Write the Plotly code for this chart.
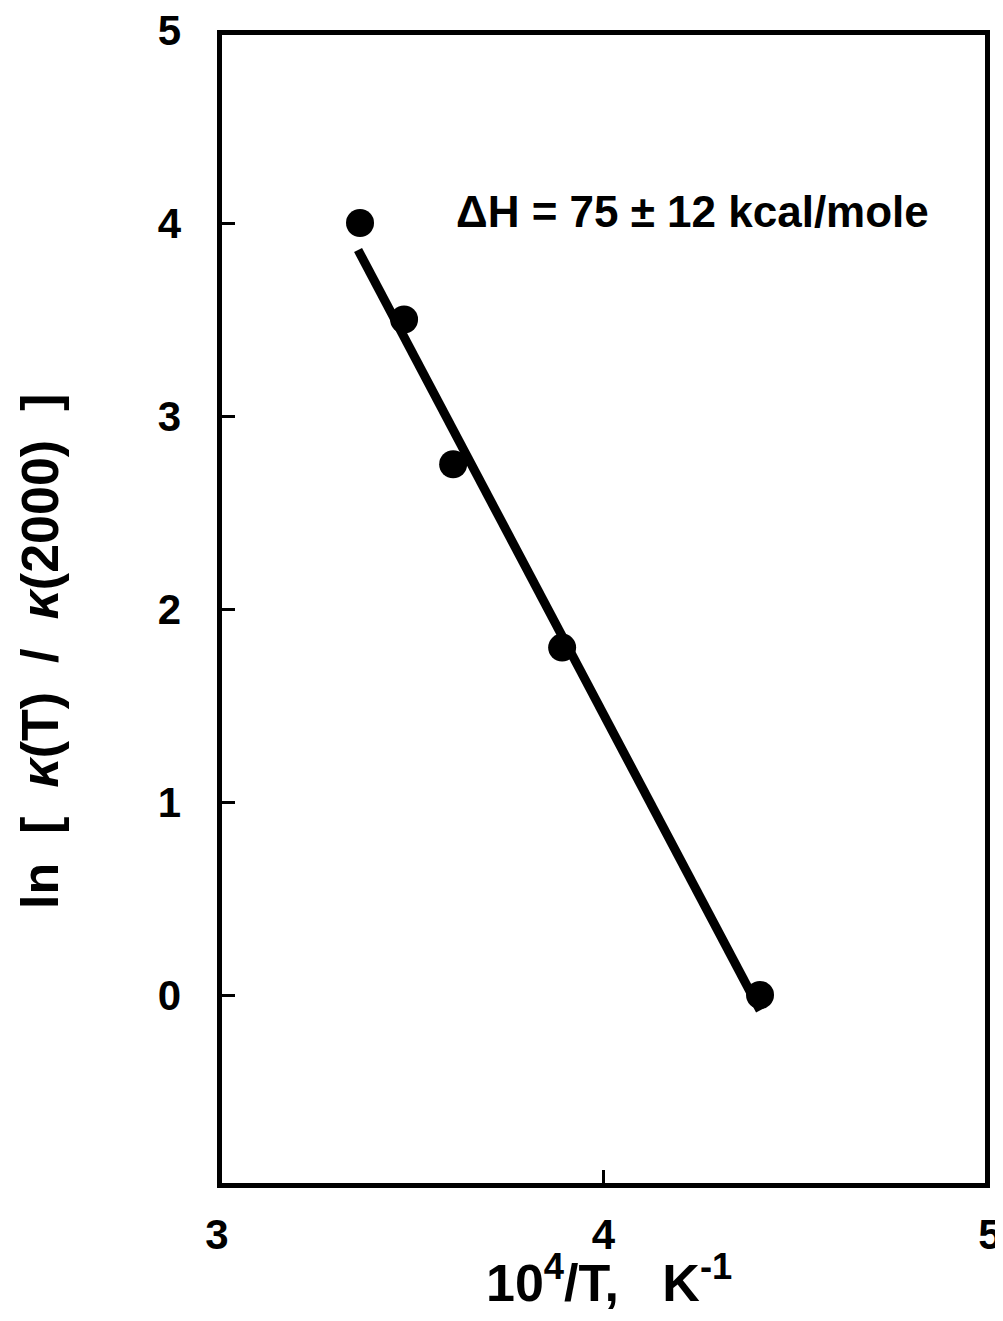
import plotly.graph_objects as go

# data points
x_pts = [3.37, 3.484, 3.611, 3.893, 4.405]
y_pts = [4.0, 3.5, 2.75, 1.8, 0.0]
# fitted line endpoints
x_fit = [3.365, 4.405]
y_fit = [3.86, -0.08]

x_ticks = [3, 4, 5]
y_ticks = [0, 1, 2, 3, 4, 5]
x_tick_labels = ["3", "4", "5"]
y_tick_labels = ["0", "1", "2", "3", "4", "5"]

FONT = "Liberation Sans, Arial, sans-serif"

fig = go.Figure()
fig.add_trace(go.Scatter(x=x_fit, y=y_fit, mode="lines",
                         line=dict(color="black", width=9), showlegend=False))
fig.add_trace(go.Scatter(x=x_pts, y=y_pts, mode="markers",
                         marker=dict(color="black", size=28), showlegend=False))

# page geometry (browser body has an 8px default margin)
OFF = 8
PW, PH = 1003, 1321
L, R, T, B = 217, 990, 30, 1188
W, H = PW - OFF, PH - OFF

fig.add_shape(type="rect", xref="x", yref="y", x0=3, x1=5, y0=-1, y1=5,
              line=dict(color="black", width=10), layer="above")

def px(xp):
    return (xp - L) / (R - L)

def py(yp):
    return (B - yp) / (B - T)

fig.add_annotation(text="<b>ΔH = 75 ± 12 kcal/mole</b>", xref="paper", yref="paper",
                   x=px(692), y=py(212), xanchor="center", yanchor="middle", showarrow=False,
                   font=dict(family=FONT, size=44, color="black"))
fig.add_annotation(text="<b>10<sup>4</sup>/T,   K<sup>-1</sup></b>", xref="paper", yref="paper",
                   x=px(609), y=py(1279), xanchor="center", yanchor="middle", showarrow=False,
                   font=dict(family=FONT, size=52, color="black"))
fig.add_annotation(text="<b>ln  [  <i>κ</i>(T)  /  <i>κ</i>(2000)  ]</b>", xref="paper", yref="paper",
                   x=px(40), y=py(652), xanchor="center", yanchor="middle", showarrow=False,
                   textangle=-90,
                   font=dict(family=FONT, size=52, color="black"))

fig.update_layout(
    width=W, height=H,
    margin=dict(l=L - OFF, r=PW - R, t=T - OFF, b=PH - B, autoexpand=False),
    plot_bgcolor="white", paper_bgcolor="white",
    font=dict(family=FONT, color="black"),
    xaxis=dict(range=[3, 5], tickvals=x_ticks, ticktext=[f"<b>{t}</b>" for t in x_tick_labels],
               ticks="inside", ticklen=18, tickwidth=3, tickcolor="black",
               showgrid=False, zeroline=False, showline=False, automargin=False,
               ticklabeloverflow="allow",
               tickfont=dict(size=42, family=FONT), ticklabelstandoff=18),
    yaxis=dict(range=[-1, 5], tickvals=y_ticks, ticktext=[f"<b>{t}</b>" for t in y_tick_labels],
               ticks="inside", ticklen=18, tickwidth=3, tickcolor="black",
               showgrid=False, zeroline=False, showline=False, automargin=False,
               ticklabeloverflow="allow",
               tickfont=dict(size=42, family=FONT), ticklabelstandoff=35),
)

fig.write_html("out.html")
